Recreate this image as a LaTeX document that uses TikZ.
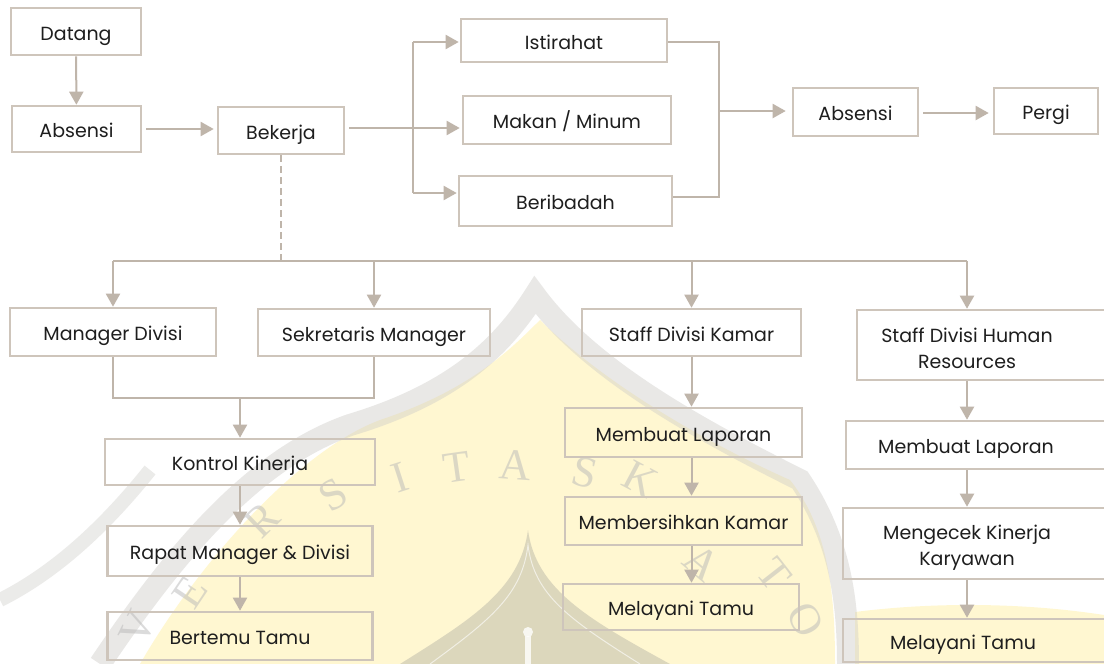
\documentclass[tikz,border=0pt]{standalone}
\usepackage{fontspec}
\setmainfont{Poppins}
\newfontfamily\wmfont{Liberation Serif}
\usetikzlibrary{arrows.meta}
\definecolor{boxc}{HTML}{CEC5BB}
\definecolor{linec}{HTML}{BFB5AA}
\definecolor{txtc}{HTML}{1E1E1E}
\definecolor{wmyellow}{HTML}{FFEE99}
\definecolor{wmgray}{HTML}{CFCDC9}
\definecolor{wmdark}{HTML}{8E8E8E}
\definecolor{wmletter}{HTML}{B8B8B8}
\newcommand\lblfont{\fontsize{19}{26}\selectfont}
\tikzset{
  box/.style={draw=boxc, line width=2.6pt, inner sep=0pt, font=\lblfont, text=txtc,
              text height=17pt, text depth=0pt},
  emptybox/.style={draw=boxc, line width=2.6pt, inner sep=0pt},
  txtonly/.style={inner sep=0pt, font=\lblfont, text=txtc, align=center},
  conn/.style={draw=linec, line width=2pt},
  arr/.style={conn, -{Triangle[length=13pt,width=14pt]}},
  wm/.style={font=\wmfont\fontsize{44}{44}\selectfont, text=wmletter, opacity=0.5, inner sep=0pt}
}
\begin{document}
\begin{tikzpicture}[x=1pt,y=-1pt]
\useasboundingbox (0,0) rectangle (1104,664);
\fill[white] (0,0) rectangle (1104,664);

% ---------- watermark (faint logo) ----------
\fill[wmyellow, opacity=0.45] (140,664) .. controls (200,560) and (300,450) .. (380,420)
   .. controls (470,390) and (510,350) .. (540,320)
   .. controls (600,380) and (700,440) .. (790,480)
   .. controls (830,530) and (835,600) .. (835,664) -- cycle;
\fill[wmyellow, opacity=0.45] (855,664) -- (855,612) .. controls (950,600) and (1040,605) .. (1104,615) -- (1104,664) -- cycle;
\draw[wmgray, line width=22pt, opacity=0.45] (100,664) .. controls (170,560) and (250,460) .. (350,425)
   .. controls (450,395) and (500,350) .. (535,295)
   .. controls (590,370) and (700,430) .. (800,480)
   .. controls (840,540) and (848,600) .. (848,664);
\draw[wmgray, line width=14pt, opacity=0.4] (0,600) .. controls (60,570) and (110,520) .. (150,470);
\fill[wmdark, opacity=0.3] (400,664) .. controls (470,620) and (520,590) .. (528,530)
   .. controls (536,590) and (590,620) .. (670,664) -- cycle;
\draw[white, line width=1pt, opacity=0.6] (430,664) .. controls (490,620) and (522,595) .. (528,545)
   .. controls (534,595) and (570,620) .. (640,664);
\fill[white, opacity=0.8] (528,632) circle (5pt);
\fill[white, opacity=0.8] (525,636) rectangle (531,664);
\node[wm, rotate=64] at (138,628) {V};
\node[wm, rotate=56] at (190,592) {E};
\node[wm, rotate=44] at (262,520) {R};
\node[wm, rotate=32] at (333,495) {S};
\node[wm, rotate=18] at (400,478) {I};
\node[wm, rotate=8]  at (457,467) {T};
\node[wm, rotate=-4] at (515,465) {A};
\node[wm, rotate=-14] at (585,473) {S};
\node[wm, rotate=-28] at (640,479) {K};
\node[wm, rotate=-40] at (702,563) {A};
\node[wm, rotate=-52] at (774,574) {T};
\node[wm, rotate=-62] at (806,620) {O};

% ---------- top row ----------
\node[box, minimum width=130pt, minimum height=47pt] (datang) at (76,31.5) {Datang};
\node[box, minimum width=129pt, minimum height=46pt] (abs1) at (76.5,129) {Absensi};
\node[box, minimum width=126pt, minimum height=47pt] (bekerja) at (281,130.5) {Bekerja};
\node[box, minimum width=206pt, minimum height=43pt] (istirahat) at (564,40.5) {Istirahat};
\node[box, minimum width=208pt, minimum height=48pt] (makan) at (567,120) {Makan / Minum};
\node[box, minimum width=213pt, minimum height=50pt] (beribadah) at (565.5,201) {Beribadah};
\node[box, minimum width=125pt, minimum height=48pt] (abs2) at (855.5,112) {Absensi};
\node[box, minimum width=104pt, minimum height=46pt] (pergi) at (1046,111) {Pergi};

\draw[arr] (datang) -- (abs1);
\draw[arr, shorten <=4pt, shorten >=3pt] (abs1.east) -- (abs1.east -| bekerja.west);
\coordinate (bTop) at (413,42);
\coordinate (bMid) at (413,128);
\coordinate (bBot) at (413,193);
\draw[arr, shorten >=2pt] ([xshift=4pt]bekerja.east |- bMid) -- (bMid -| makan.west);
\draw[conn] (bTop) -- (bBot);
\draw[arr, shorten >=1pt] (bTop) -- (bTop -| istirahat.west);
\draw[arr, shorten >=1pt] (bBot) -- (bBot -| beribadah.west);
\coordinate (mTop) at (719,42);
\coordinate (mMid) at (719,111);
\coordinate (mBot) at (719,197);
\draw[conn] (mTop -| istirahat.east) -- (mTop) -- (mBot) -- (mBot -| beribadah.east);
\draw[arr, shorten >=6pt] (mMid) -- (mMid -| abs2.west);
\draw[arr, shorten <=4pt, shorten >=4pt] (abs2.east |- 0,113) -- (pergi.west |- 0,113);

% ---------- second level ----------
\coordinate (bus) at (0,261);
\node[box, minimum width=206pt, minimum height=48pt] (mgr) at (113,332) {Manager Divisi};
\node[box, minimum width=232pt, minimum height=47pt] (sek) at (374,332.5) {Sekretaris Manager};
\node[box, minimum width=219pt, minimum height=47pt] (kamar) at (691.5,332.5) {Staff Divisi Kamar};
\node[emptybox, minimum width=252pt, minimum height=70pt] (hr) at (983,345) {};
\node[txtonly] (hrT) at (967,348) {Staff Divisi Human\\Resources};

\draw[conn, dash pattern=on 7pt off 4pt] (bekerja.south) -- (bekerja.south |- bus);
\draw[conn] (mgr.north |- bus) -- (hrT.center |- bus);
\draw[arr] (mgr.north |- bus) -- (mgr.north);
\draw[arr] (sek.north |- bus) -- (sek.north);
\draw[arr] (kamar.north |- bus) -- (kamar.north);
\draw[arr] (hrT.center |- bus) -- (hrT.center |- hr.north);

% ---------- manager column ----------
\coordinate (j) at (0,398);
\node[box, minimum width=270pt, minimum height=46pt] (kontrol) at (240,462) {Kontrol Kinerja};
\node[box, minimum width=265pt, minimum height=50pt] (rapat) at (240,551) {Rapat Manager \& Divisi};
\node[box, minimum width=265pt, minimum height=48pt] (bertemu) at (240,636) {Bertemu Tamu};
\draw[conn] (mgr.south) -- (mgr.south |- j) -- (sek.south |- j) -- (sek.south);
\draw[arr] (kontrol.north |- j) -- (kontrol.north);
\draw[arr] (kontrol) -- (rapat);
\draw[arr] (rapat) -- (bertemu);

% ---------- kamar column ----------
\node[box, minimum width=237pt, minimum height=49pt] (lap1) at (683.5,432.5) {Membuat Laporan};
\node[box, minimum width=237pt, minimum height=48pt] (bersih) at (683.5,521) {Membersihkan Kamar};
\node[box, minimum width=236pt, minimum height=46pt] (mel1) at (681,607) {Melayani Tamu};
\draw[arr] (kamar.south) -- (kamar.south |- lap1.north);
\draw[arr] (kamar.south |- lap1.south) -- (kamar.south |- bersih.north);
\draw[arr] (kamar.south |- bersih.south) -- (kamar.south |- mel1.north);

% ---------- HR column ----------
\node[emptybox, minimum width=262pt, minimum height=48pt] (lap2) at (977,445) {};
\node[txtonly, text height=17pt, text depth=0pt] (lap2T) at (966,445) {Membuat Laporan};
\node[emptybox, minimum width=265pt, minimum height=71pt] (cek) at (975.5,543.5) {};
\node[txtonly] (cekT) at (967,548) {Mengecek Kinerja\\Karyawan};
\node[emptybox, minimum width=265pt, minimum height=43pt] (mel2) at (975.5,640.5) {};
\node[txtonly, text height=17pt, text depth=0pt] (mel2T) at (963,640.5) {Melayani Tamu};
\draw[arr] (hrT.center |- hr.south) -- (hrT.center |- lap2.north);
\draw[arr] (hrT.center |- lap2.south) -- (hrT.center |- cek.north);
\draw[arr] (hrT.center |- cek.south) -- (hrT.center |- mel2.north);
\end{tikzpicture}
\end{document}
